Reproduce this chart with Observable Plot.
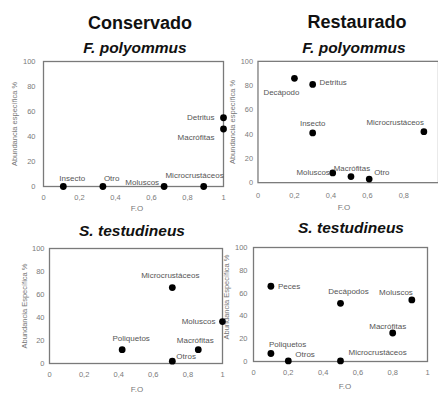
<!DOCTYPE html>
<html><head><meta charset="utf-8">
<script src="https://cdn.jsdelivr.net/npm/d3@7"></script>
<script src="https://cdn.jsdelivr.net/npm/@observablehq/plot@0.6"></script>
<style>
html,body{margin:0;padding:0;background:#fff;overflow:hidden;width:438px;height:394px;}
#root{position:relative;width:438px;height:394px;font-family:"Liberation Sans",Arial,sans-serif;overflow:hidden;}
.abs{position:absolute;white-space:nowrap;line-height:1;}
.c{transform:translate(-50%,-50%);}
.title{font-weight:bold;font-size:18px;color:#111;}
.sp{font-weight:bold;font-style:italic;font-size:15.5px;color:#111;}
.ax{font-size:8px;color:#777;}
.yl{font-size:7.5px;color:#777;transform:translate(-50%,-50%) rotate(-90deg);}
.pl{position:absolute;}
</style></head>
<body><div id="root"></div>
<script>
// ---- data ----
const titles = ["Conservado", "Restaurado"];
const species = ["F. polyommus", "S. testudineus"];
const xLabel = "F.O";
const yLabels = ["Abundancia específica %", "Abundancia Específica %"];
const yTicks = [0, 20, 40, 60, 80, 100];
const xTicks = [0, 0.2, 0.4, 0.6, 0.8, 1];

// Conservado – F. polyommus
const names1 = ["Insecto", "Otro", "Moluscos", "Microcrustáceos", "Detritus", "Macrófitas"];
const fo1 = [0.11, 0.33, 0.67, 0.89, 1.0, 1.0];
const ab1 = [0, 0, 0, 0, 55, 46];
// Restaurado – F. polyommus
const names2 = ["Decápodo", "Detritus", "Insecto", "Microcrustáceos", "Moluscos", "Macrófitas", "Otro"];
const fo2 = [0.2, 0.3, 0.3, 0.91, 0.41, 0.51, 0.61];
const ab2 = [86, 81, 41, 42, 8, 5, 3];
// Conservado – S. testudineus
const names3 = ["Microcrustáceos", "Moluscos", "Poliquetos", "Macrófitas", "Otros"];
const fo3 = [0.71, 1.0, 0.42, 0.86, 0.71];
const ab3 = [66, 36.5, 12, 12, 2];
// Restaurado – S. testudineus
const names4 = ["Peces", "Decápodos", "Moluscos", "Macrófitas", "Poliquetos", "Otros", "Microcrustáceos"];
const fo4 = [0.1, 0.5, 0.91, 0.8, 0.1, 0.2, 0.5];
const ab4 = [66, 51, 54, 25, 7, 0.5, 0.5];

// ---- label placement (anchor, dx, dy) ----
const lab1 = [["start",-4,-8],["start",1,-8],["end",-5,-4],["end",20,-11],["end",-9,0],["end",-9,8]];
const lab2 = [["end",5,14],["start",7,-2],["middle",0,-10],["end",0,-9],["end",-3,0],["middle",1,-8],["start",5,-7]];
const lab3 = [["middle",-2,-12],["end",-7,0],["middle",9,-11],["middle",-3,-9],["start",4,-5]];
const lab4 = [["start",7,0],["middle",8,-12],["end",1,-8],["middle",-5,-7],["start",-2,-9],["start",7,-6],["start",8,-8]];

const root = document.getElementById("root");
function addText(txt, cls, x, y) {
  const d = document.createElement("div");
  d.className = "abs " + cls;
  d.textContent = txt;
  d.style.left = x + "px"; d.style.top = y + "px";
  root.appendChild(d);
}
const fmt = v => String(v).replace(".", ",");

function panel(names, fo, ab, lab, L) {
  const data = names.map((n, i) => ({name: n, fo: fo[i], ab: ab[i]}));
  const texts = data.map((d, i) => Plot.text([d], {
    x: "fo", y: "ab", text: "name", textAnchor: lab[i][0], dx: lab[i][1], dy: lab[i][2],
    fill: "#555", fontSize: 8
  }));
  const svg = Plot.plot({
    width: L.w, height: L.h,
    marginLeft: L.ml, marginRight: L.mr, marginTop: L.mt, marginBottom: L.mb,
    style: {background: "transparent", overflow: "visible", fontFamily: "Liberation Sans, Arial, sans-serif", fontSize: "7.5px", color: "#7a7a7a"},
    x: {domain: L.xd, ticks: xTicks.filter(t => t <= L.xd[1]), tickFormat: fmt, tickSize: 0, tickPadding: L.xp, label: null},
    y: {domain: [0, 100], ticks: yTicks, tickSize: 0, tickPadding: L.yp, label: null},
    marks: [
      Plot.frame({stroke: "#7a7a7a", strokeWidth: 1.3}),
      Plot.dot(data, {x: "fo", y: "ab", r: 3.4, fill: "#000"}),
      ...texts
    ]
  });
  const wrap = document.createElement("div");
  wrap.className = "pl";
  wrap.style.left = L.left + "px"; wrap.style.top = L.top + "px";
  wrap.appendChild(svg);
  root.appendChild(wrap);
}

panel(names1, fo1, ab1, lab1, {left: 0, top: 50, w: 228, h: 161, ml: 43, mr: 5, mt: 11, mb: 25, xd: [0, 1], xp: 8, yp: 8});
panel(names2, fo2, ab2, lab2, {left: 220, top: 50, w: 221, h: 159, ml: 38, mr: 0, mt: 11, mb: 25, xd: [0, 0.99], xp: 10, yp: 5});
panel(names3, fo3, ab3, lab3, {left: 0, top: 240, w: 227, h: 143, ml: 49, mr: 5, mt: 8, mb: 20, xd: [0, 1], xp: 8, yp: 5});
panel(names4, fo4, ab4, lab4, {left: 220, top: 240, w: 212, h: 143, ml: 33, mr: 5, mt: 7, mb: 22, xd: [0, 1], xp: 8, yp: 6});

addText(titles[0], "title c", 140, 23);
addText(titles[1], "title c", 357, 22);
addText(species[0], "sp c", 135, 48);
addText(species[0], "sp c", 354, 48);
addText(species[1], "sp c", 132, 231);
addText(species[1], "sp c", 351, 228);
addText(xLabel, "ax c", 137, 209);
addText(xLabel, "ax c", 344, 208);
addText(xLabel, "ax c", 137, 390);
addText(xLabel, "ax c", 345, 387);
addText(yLabels[0], "yl", 15, 124);
addText(yLabels[0], "yl", 233, 122);
addText(yLabels[1], "yl", 25, 306);
addText(yLabels[1], "yl", 227, 297);
</script>
</body></html>
